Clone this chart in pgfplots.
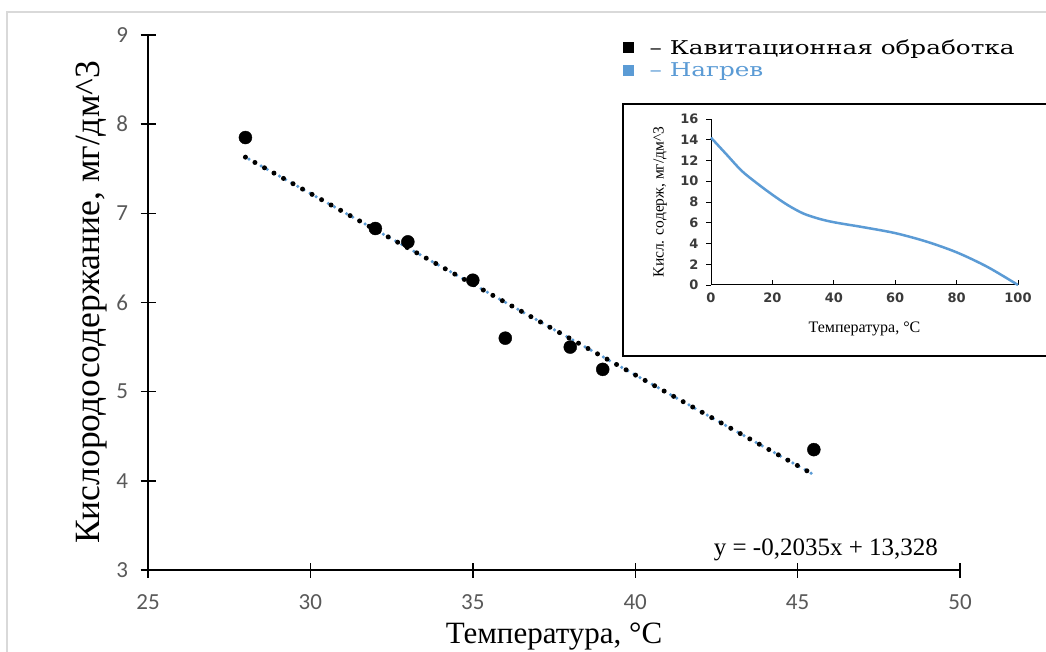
\documentclass[border=0pt]{standalone}
\usepackage{pgfplots}
\pgfplotsset{compat=1.18}
\usepackage{fontspec}
\setmainfont{Liberation Serif}
\newfontfamily\tickfont{Carlito}
\newfontfamily\legfont[FakeStretch=1.3]{DejaVu Serif}
\newfontfamily\insetfont{DejaVu Sans}
\definecolor{tickgray}{HTML}{595959}
\definecolor{heatblue}{HTML}{5B9BD5}
\definecolor{framegray}{HTML}{D9D9D9}
\definecolor{insetgray}{HTML}{3A3A3A}

\begin{document}
\begin{tikzpicture}[x=1pt,y=1pt]
\useasboundingbox (0,0) rectangle (1046,651);
\draw[framegray, line width=1.5pt] (7,-10) -- (7,639) -- (1060,639);

% main chart
\begin{axis}[
  at={(148pt,81pt)}, anchor=south west,
  scale only axis, width=812pt, height=535pt,
  xmin=25, xmax=50, ymin=3, ymax=9,
  axis lines=left, axis line style={-, line width=1.6pt},
  xtick={25,30,...,50}, ytick={3,4,...,9},
  tick align=center, major tick length=15pt,
  tick style={line width=1.4pt, black},
  ticklabel style={font=\tickfont\fontsize{23}{23}\selectfont, text=tickgray},
  yticklabel style={xshift=-9pt},
  xticklabel style={yshift=-14pt},
  /pgf/number format/assume math mode=true,
  xlabel={Температура, °C},
  ylabel={Кислородосодержание, мг/дм\textasciicircum 3},
  xlabel style={font=\fontsize{31}{34}\selectfont, at={(axis description cs:0.5,0)}, anchor=base, yshift=-73pt},
  ylabel style={font=\fontsize{35.5}{38}\selectfont, at={(axis description cs:-0.069,0.5)}, anchor=center},
  clip=false,
  legend style={at={(0.585,0.996)}, anchor=north west, draw=none, fill=none, inner sep=0pt,
    font=\legfont\fontsize{19}{22}\selectfont, legend cell align=left,
    row sep=3pt},
  legend image code/.code={\fill (0pt,-5pt) rectangle (10pt,5pt);},
]
\addlegendimage{black}
\addlegendentry{\hspace{14pt}– Кавитационная обработка}
\addlegendimage{heatblue}
\addlegendentry{\hspace{14pt}\textcolor{heatblue}{– Нагрев}}

% trend lines
\addplot[heatblue, line width=3.5pt, line cap=round, dash pattern=on 0pt off 7pt, dash phase=3pt, forget plot]
  coordinates {(28,7.630) (45.5,4.069)};
\addplot[black, line width=5pt, line cap=round, dash pattern=on 0pt off 10.9pt, forget plot]
  coordinates {(28,7.630) (45.5,4.069)};

% measured points
\addplot[only marks, mark=*, mark size=6.5pt, black, forget plot] coordinates {
  (28,7.85) (32,6.83) (33,6.68) (35,6.25) (36,5.60) (38,5.50) (39,5.25) (45.5,4.35)
};

\node[anchor=base, font=\fontsize{25}{28}\selectfont] at (axis cs:45.87,3.16) {y = -0,2035x + 13,328};
\end{axis}

% inset
\draw[line width=1.5pt, fill=white] (623,295) rectangle (1070,547);
\begin{axis}[
  at={(711pt,366pt)}, anchor=south west,
  scale only axis, width=307pt, height=166pt,
  xmin=0, xmax=100, ymin=0, ymax=16,
  axis lines=left, axis line style={-, line width=1pt},
  xtick={0,20,...,100}, ytick={0,2,...,16},
  x tick style={line width=0.8pt, black}, y tick style={line width=0.8pt, black},
  xtick align=inside, ytick align=outside,
  major tick length=5pt,
  ticklabel style={font=\insetfont\bfseries\fontsize{13}{13}\selectfont, text=insetgray},
  yticklabel style={xshift=-4pt},
  xticklabel style={yshift=-4pt},
  /pgf/number format/assume math mode=true,
  xlabel={Температура, °C},
  ylabel={Кисл. содерж, мг/дм\textasciicircum 3},
  xlabel style={font=\fontsize{16}{18}\selectfont, at={(axis description cs:0.5,0)}, anchor=center, yshift=-44pt},
  ylabel style={font=\fontsize{15.5}{17}\selectfont, at={(axis description cs:-0.166,0.5)}, anchor=center},
  clip=false,
]
\addplot[heatblue, line width=2.5pt, smooth, tension=0.5] coordinates {
  (0,14.2) (5,12.6) (10,11.0) (15,9.8) (20,8.7) (25,7.7) (30,6.9) (35,6.4)
  (40,6.05) (50,5.55) (60,5.0) (70,4.2) (80,3.15) (90,1.75) (100,0)
};
\end{axis}
\end{tikzpicture}
\end{document}
